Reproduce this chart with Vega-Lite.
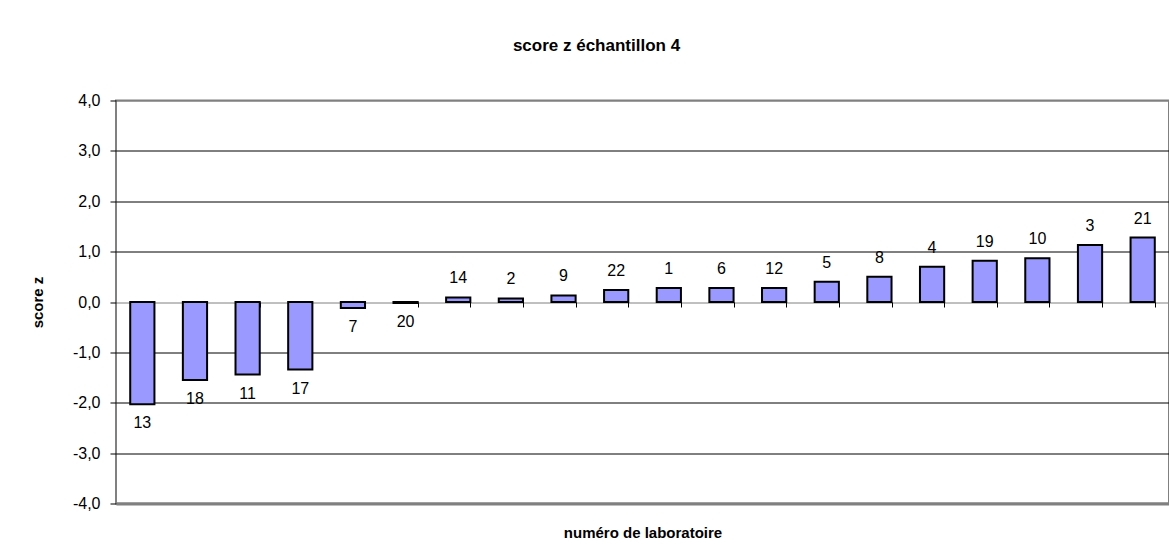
{
  "$schema": "https://vega.github.io/schema/vega-lite/v6.json",
  "autosize": {"type": "none"},
  "padding": {"left": 116, "top": 100.5, "right": 0, "bottom": 53.5},
  "width": 1053,
  "height": 403,
  "background": "white",
  "title": {
    "text": "score z échantillon 4",
    "font": "Liberation Sans",
    "fontSize": 17,
    "fontWeight": "bold",
    "color": "#000000",
    "anchor": "middle",
    "baseline": "alphabetic",
    "offset": 25,
    "dx": -46
  },
  "config": {
    "font": "Liberation Sans",
    "view": {"stroke": "#808080", "strokeWidth": 2}
  },
  "data": {
    "values": [
      {"lab": "13", "z": -2.03},
      {"lab": "18", "z": -1.55},
      {"lab": "11", "z": -1.44},
      {"lab": "17", "z": -1.34},
      {"lab": "7", "z": -0.12},
      {"lab": "20", "z": -0.02},
      {"lab": "14", "z": 0.09},
      {"lab": "2", "z": 0.07},
      {"lab": "9", "z": 0.13},
      {"lab": "22", "z": 0.24},
      {"lab": "1", "z": 0.28},
      {"lab": "6", "z": 0.28},
      {"lab": "12", "z": 0.28},
      {"lab": "5", "z": 0.4},
      {"lab": "8", "z": 0.5},
      {"lab": "4", "z": 0.7},
      {"lab": "19", "z": 0.82},
      {"lab": "10", "z": 0.87},
      {"lab": "3", "z": 1.13},
      {"lab": "21", "z": 1.28}
    ]
  },
  "encoding": {
    "x": {
      "field": "lab",
      "type": "nominal",
      "sort": null,
      "scale": {"paddingInner": 0.54, "paddingOuter": 0.27},
      "axis": {
        "orient": "bottom",
        "offset": -201.5,
        "title": "numéro de laboratoire",
        "titleFont": "Liberation Sans",
        "titleFontSize": 15,
        "titleFontWeight": "bold",
        "titleColor": "#000000",
        "titleBaseline": "middle",
        "titleY": 230.5,
        "labels": false,
        "domain": false,
        "ticks": true,
        "tickBand": "extent",
        "tickSize": 5,
        "tickColor": "#000000",
        "tickWidth": 1,
        "grid": false
      }
    },
    "y": {
      "field": "z",
      "type": "quantitative",
      "scale": {"domain": [-4, 4], "nice": false, "zero": false},
      "axis": {
        "title": "score z",
        "titleFont": "Liberation Sans",
        "titleFontSize": 15,
        "titleFontWeight": "bold",
        "titleColor": "#000000",
        "titleBaseline": "middle",
        "titleX": -79,
        "values": [-4, -3, -2, -1, 0, 1, 2, 3, 4],
        "labelExpr": "(datum.value < 0 ? '-' : '') + replace(format(abs(datum.value), '.1f'), '.', ',')",
        "labelFont": "Liberation Sans",
        "labelFontSize": 16,
        "labelColor": "#000000",
        "labelPadding": 10,
        "tickSize": 6,
        "tickColor": "#000000",
        "tickWidth": 1,
        "domain": false,
        "grid": true,
        "gridColor": {
          "condition": {"test": "datum.value == 0 || abs(datum.value) == 4", "value": "#808080"},
          "value": "#000000"
        },
        "gridWidth": {
          "condition": {"test": "datum.value == -4", "value": 3},
          "value": 1
        },
        "gridOpacity": 1
      }
    }
  },
  "layer": [
    {
      "mark": {"type": "bar", "fill": "#9999FF", "stroke": "#000000", "strokeWidth": 2},
      "encoding": {
        "y": {"field": "z", "type": "quantitative"},
        "y2": {"datum": 0}
      }
    },
    {
      "transform": [{"filter": "datum.z >= 0"}],
      "mark": {"type": "text", "baseline": "middle", "dy": -19, "fontSize": 16, "font": "Liberation Sans", "color": "#000000"},
      "encoding": {"text": {"field": "lab"}}
    },
    {
      "transform": [{"filter": "datum.z < 0"}],
      "mark": {"type": "text", "baseline": "middle", "dy": 19, "fontSize": 16, "font": "Liberation Sans", "color": "#000000"},
      "encoding": {"text": {"field": "lab"}}
    }
  ]
}
